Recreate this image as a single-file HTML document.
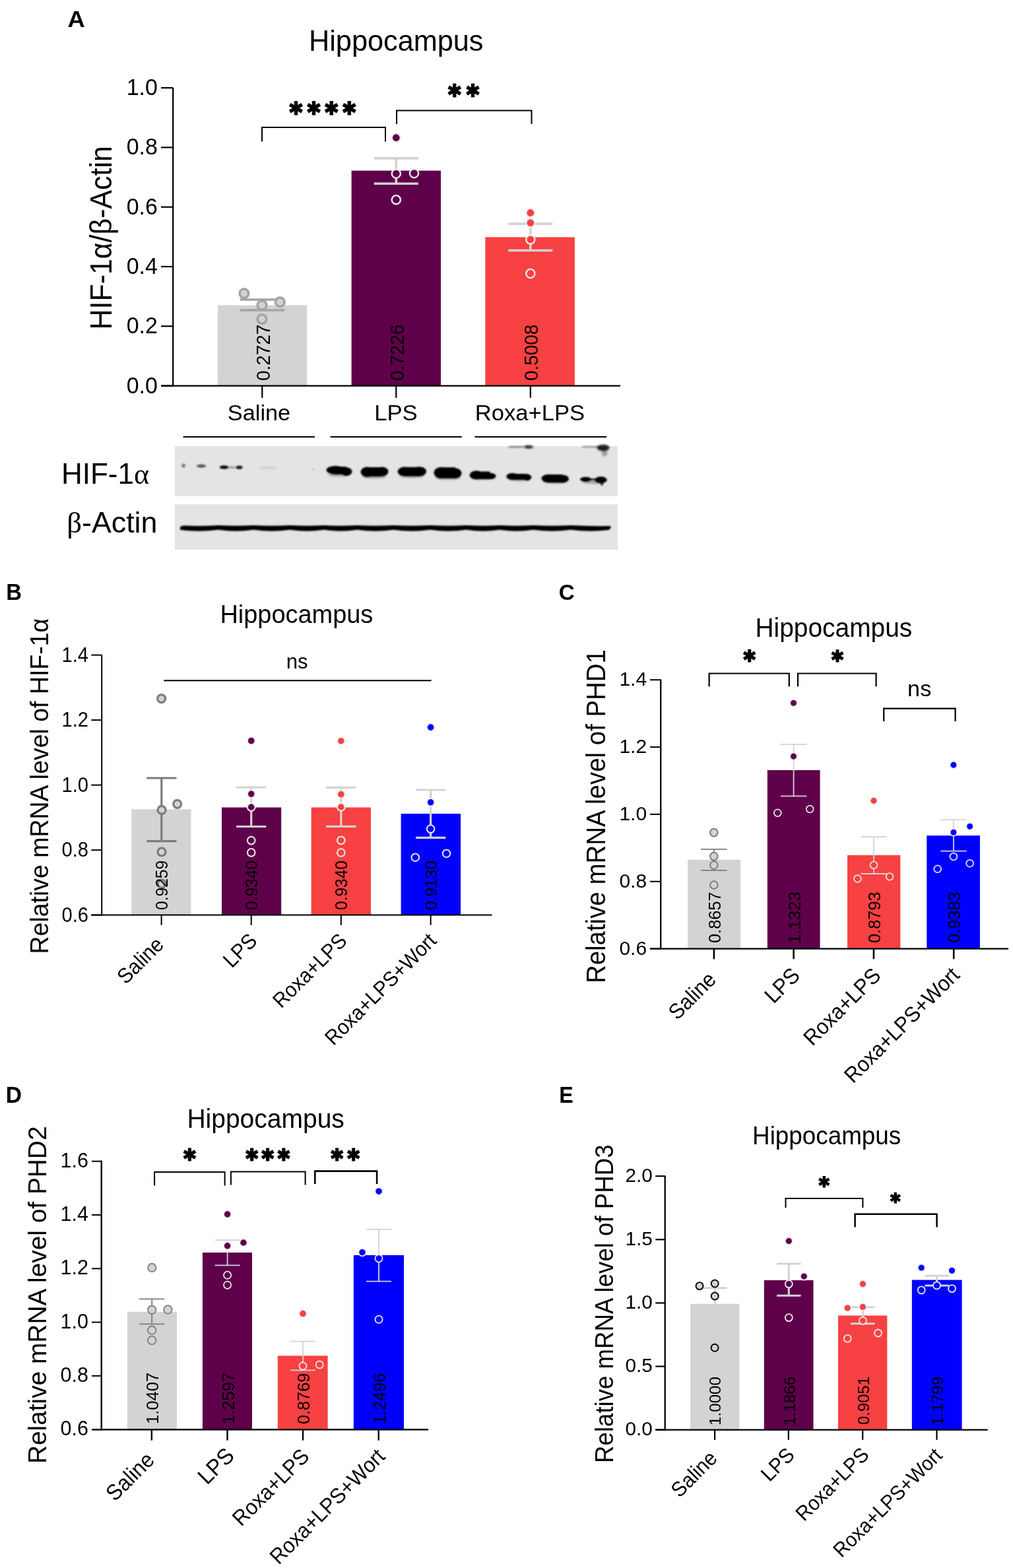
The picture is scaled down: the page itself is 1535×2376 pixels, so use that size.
<!DOCTYPE html>
<html><head><meta charset="utf-8"><title>Hippocampus HIF-1α and PHD expression</title>
<style>html,body{margin:0;padding:0;background:#fff;overflow:hidden;width:1535px;height:2376px;}svg{display:block;}</style></head>
<body><svg width="1535" height="2376" viewBox="0 0 1535 2376" font-family="'Liberation Sans', Arial, sans-serif" fill="#000">
<defs><filter id="blur1" x="-5%" y="-50%" width="110%" height="200%"><feGaussianBlur stdDeviation="1.0"/></filter><filter id="blur2" x="-20%" y="-100%" width="140%" height="300%"><feGaussianBlur stdDeviation="0.8"/></filter><filter id="blur3" x="-20%" y="-100%" width="140%" height="300%"><feGaussianBlur stdDeviation="1.6"/></filter></defs>
<rect width="1535" height="2376" fill="#fff"/>
<rect x="329.8" y="462.5" width="135.4" height="122.1" fill="#d3d3d3"/>
<rect x="532.6" y="258.6" width="135.4" height="326" fill="#5f004b"/>
<rect x="735.3" y="359.4" width="135.6" height="225.2" fill="#f74142"/>
<path d="M363.8,454 H430.8 M397.3,454 V470 M363.8,470 H430.8" fill="none" stroke="#a3a3a8" stroke-width="3.6"/>
<path d="M566.8,239.9 H633.8 M600.3,239.9 V278.3 M566.8,278.3 H633.8" fill="none" stroke="#d3d3d3" stroke-width="3.6"/>
<path d="M770.3,339.1 H837.3 M803.8,339.1 V379.5 M770.3,379.5 H837.3" fill="none" stroke="#d3d3d3" stroke-width="3.6"/>
<circle cx="369.9" cy="444.6" r="6.8" fill="#d3d3d3" stroke="#a3a3a8" stroke-width="3.6"/>
<circle cx="397" cy="462.4" r="6.8" fill="#d3d3d3" stroke="#a3a3a8" stroke-width="3.6"/>
<circle cx="424.3" cy="457.7" r="6.8" fill="#d3d3d3" stroke="#a3a3a8" stroke-width="3.6"/>
<circle cx="397" cy="483.5" r="6.8" fill="#d3d3d3" stroke="#a3a3a8" stroke-width="3.6"/>
<circle cx="600.3" cy="208.7" r="6.6" fill="#5f004b" stroke="#ececec" stroke-width="2.4"/>
<circle cx="600.3" cy="263.1" r="6.6" fill="#5f004b" stroke="#ececec" stroke-width="2.4"/>
<circle cx="627.5" cy="262.6" r="6.6" fill="#5f004b" stroke="#ececec" stroke-width="2.4"/>
<circle cx="600.3" cy="302.7" r="6.6" fill="#5f004b" stroke="#ececec" stroke-width="2.4"/>
<circle cx="803.8" cy="322.5" r="6.6" fill="#f74142" stroke="#ececec" stroke-width="2.4"/>
<circle cx="803.8" cy="337.7" r="6.6" fill="#f74142" stroke="#ececec" stroke-width="2.4"/>
<circle cx="803.8" cy="362.9" r="6.6" fill="#f74142" stroke="#ececec" stroke-width="2.4"/>
<circle cx="803.8" cy="414.5" r="6.6" fill="#f74142" stroke="#ececec" stroke-width="2.4"/>
<line x1="262.2" y1="132.9" x2="262.2" y2="585.75" stroke="#000" stroke-width="2.3"/>
<line x1="244" y1="584.6" x2="940" y2="584.6" stroke="#000" stroke-width="2.3"/>
<line x1="244" y1="584.6" x2="262.2" y2="584.6" stroke="#000" stroke-width="2.2"/>
<line x1="244" y1="494.3" x2="262.2" y2="494.3" stroke="#000" stroke-width="2.2"/>
<line x1="244" y1="404" x2="262.2" y2="404" stroke="#000" stroke-width="2.2"/>
<line x1="244" y1="313.7" x2="262.2" y2="313.7" stroke="#000" stroke-width="2.2"/>
<line x1="244" y1="223.4" x2="262.2" y2="223.4" stroke="#000" stroke-width="2.2"/>
<line x1="244" y1="133.1" x2="262.2" y2="133.1" stroke="#000" stroke-width="2.2"/>
<line x1="397.3" y1="584.6" x2="397.3" y2="602.8" stroke="#000" stroke-width="2.2"/>
<line x1="600.3" y1="584.6" x2="600.3" y2="602.8" stroke="#000" stroke-width="2.2"/>
<line x1="803.8" y1="584.6" x2="803.8" y2="602.8" stroke="#000" stroke-width="2.2"/>
<path d="M397,214.6 V193 H584 V214.6" fill="none" stroke="#000" stroke-width="2"/>
<path d="M601,188 V167.4 H805.5 V188" fill="none" stroke="#000" stroke-width="2"/>
<line x1="277.6" y1="662" x2="477.1" y2="662" stroke="#000" stroke-width="2"/>
<line x1="500.6" y1="662" x2="699.8" y2="662" stroke="#000" stroke-width="2"/>
<line x1="719.5" y1="662" x2="919.3" y2="662" stroke="#000" stroke-width="2"/>
<rect x="264.8" y="676.1" width="671.1" height="75.8" fill="#e4e4e4"/>
<rect x="264.8" y="764.2" width="671.1" height="68.8" fill="#e4e4e4"/>
<g filter="url(#blur1)" fill="#000">
<ellipse cx="508.5" cy="712.3" rx="14" ry="6.4"/>
<ellipse cx="525" cy="714.6" rx="8.5" ry="6.3"/>
<rect x="508" y="707.2" width="17" height="11.5"/>
<ellipse cx="556.5" cy="715.2" rx="10" ry="7.6"/>
<ellipse cx="578.5" cy="714.6" rx="10" ry="7.2"/>
<rect x="556" y="708" width="22" height="14"/>
<ellipse cx="613" cy="714.6" rx="10.5" ry="7"/>
<ellipse cx="635.5" cy="714.4" rx="10.5" ry="7.2"/>
<rect x="613" y="707.8" width="23" height="13.8"/>
<ellipse cx="668.5" cy="716.3" rx="11" ry="8.6"/>
<ellipse cx="690" cy="717.2" rx="9.5" ry="7.6"/>
<rect x="668" y="708.2" width="22" height="16.5"/>
<ellipse cx="722" cy="719.9" rx="10.5" ry="6.6"/>
<ellipse cx="742.5" cy="721.4" rx="9" ry="4.7"/>
<rect x="722" y="714.5" width="20.5" height="11.5"/>
<ellipse cx="776.5" cy="722" rx="9.3" ry="5"/>
<ellipse cx="799" cy="723.4" rx="6.2" ry="4.8"/>
<rect x="776.5" y="718" width="22.5" height="9"/>
<ellipse cx="831.5" cy="725" rx="11" ry="6.2"/>
<ellipse cx="852" cy="725.6" rx="10" ry="6"/>
<rect x="831.5" y="719" width="20.5" height="12.3"/>
<ellipse cx="887.5" cy="726.3" rx="8.5" ry="3.6"/>
<ellipse cx="910.5" cy="727.2" rx="9.2" ry="5"/>
<rect x="893" y="725" width="12" height="2.6" fill-opacity="0.8"/>
<ellipse cx="912" cy="732" rx="2.4" ry="4" fill-opacity="0.7"/>
</g>
<g filter="url(#blur3)" fill="#000">
<ellipse cx="513" cy="719" rx="16" ry="3.2" fill-opacity="0.28"/>
<ellipse cx="567" cy="722" rx="18" ry="3.2" fill-opacity="0.28"/>
<ellipse cx="624" cy="721" rx="19" ry="3.2" fill-opacity="0.28"/>
<ellipse cx="679" cy="724" rx="19" ry="3.2" fill-opacity="0.28"/>
<ellipse cx="732" cy="724" rx="17" ry="3.2" fill-opacity="0.28"/>
<ellipse cx="786" cy="726" rx="16" ry="3.2" fill-opacity="0.28"/>
<ellipse cx="841" cy="729.5" rx="18" ry="3.2" fill-opacity="0.28"/>
<ellipse cx="899" cy="730" rx="17" ry="3.2" fill-opacity="0.28"/>
<rect x="771" y="676" width="22" height="2.2" fill-opacity="0.55"/>
<ellipse cx="801" cy="677.2" rx="7" ry="2.6" fill-opacity="0.8"/>
<rect x="882" y="676" width="28" height="2" fill-opacity="0.45"/>
<ellipse cx="914" cy="678.5" rx="9.5" ry="4.8" fill-opacity="0.85"/>
<ellipse cx="916" cy="686" rx="4.5" ry="5.5" fill-opacity="0.3"/>
</g>
<g filter="url(#blur2)" fill="#000">
<ellipse cx="278" cy="705.5" rx="3" ry="3" fill-opacity="0.45"/>
<ellipse cx="305" cy="706.2" rx="7" ry="2.6" fill-opacity="0.6"/>
<ellipse cx="339.5" cy="708" rx="6.8" ry="2.8" fill-opacity="0.95"/>
<ellipse cx="351.5" cy="708.3" rx="5.5" ry="1.8" fill-opacity="0.3"/>
<ellipse cx="362.5" cy="708.3" rx="5" ry="2.7" fill-opacity="0.85"/>
<ellipse cx="406" cy="708.8" rx="13" ry="1.6" fill-opacity="0.12"/>
<ellipse cx="474" cy="711" rx="1.5" ry="1.5" fill-opacity="0.2"/>
</g>
<path filter="url(#blur1)" d="M273,799.5 Q273,796.2 281,796.6 Q301.9,797.6 330.9,796.0 Q357.4,797.6 384.0,796.0 Q411.7,797.6 439.4,796.0 Q464.9,797.6 490.4,796.0 Q515.8,797.6 541.3,796.0 Q568.6,797.6 596.0,796.0 Q624.0,797.6 652.0,796.0 Q679.1,797.6 706.3,796.0 Q731.8,797.6 757.3,796.0 Q782.8,797.6 808.2,796.0 Q836.5,797.6 864.7,796.0 Q894.6,797.6 924.5,797 Q927.5,799 922.5,803 Q894.6,806.6 864.7,802.8 Q836.5,806.6 808.2,802.8 Q782.8,806.6 757.3,802.8 Q731.8,806.6 706.3,802.8 Q679.1,806.6 652.0,802.8 Q624.0,806.6 596.0,802.8 Q568.6,806.6 541.3,802.8 Q515.8,806.6 490.4,802.8 Q464.9,806.6 439.4,802.8 Q411.7,806.6 384.0,802.8 Q357.4,806.6 330.9,802.8 Q301.9,806.6 273.0,803 Z" fill="#000"/>
<rect x="199.2" y="1226.3" width="90.3" height="160.3" fill="#d3d3d3"/>
<rect x="336" y="1223.5" width="90.2" height="163.1" fill="#5f004b"/>
<rect x="471.6" y="1223.5" width="90.4" height="163.1" fill="#f74142"/>
<rect x="607.6" y="1233" width="90.4" height="153.6" fill="#0000fe"/>
<path d="M222.2,1179 H267.4 M244.8,1179 V1274.7 M222.2,1274.7 H267.4" fill="none" stroke="#7c7c7c" stroke-width="3.2"/>
<path d="M358.1,1193 H403.3 M380.7,1193 V1252.5 M358.1,1252.5 H403.3" fill="none" stroke="#d3d3d3" stroke-width="3.2"/>
<path d="M494.2,1193.4 H539.4 M516.8,1193.4 V1252.3 M494.2,1252.3 H539.4" fill="none" stroke="#d3d3d3" stroke-width="3.2"/>
<path d="M630,1197 H675.2 M652.6,1197 V1269.4 M630,1269.4 H675.2" fill="none" stroke="#d3d3d3" stroke-width="3.2"/>
<circle cx="244.6" cy="1058.6" r="6" fill="#d3d3d3" stroke="#7c7c7c" stroke-width="3.2"/>
<circle cx="245" cy="1227.4" r="6" fill="#d3d3d3" stroke="#7c7c7c" stroke-width="3.2"/>
<circle cx="268.7" cy="1218.4" r="6" fill="#d3d3d3" stroke="#7c7c7c" stroke-width="3.2"/>
<circle cx="245" cy="1290.8" r="6" fill="#d3d3d3" stroke="#7c7c7c" stroke-width="3.2"/>
<circle cx="245" cy="1339.2" r="6" fill="#d3d3d3" stroke="#7c7c7c" stroke-width="3.2"/>
<circle cx="380.7" cy="1122.5" r="5.8" fill="#5f004b" stroke="#ececec" stroke-width="2"/>
<circle cx="380.7" cy="1203.1" r="5.8" fill="#5f004b" stroke="#ececec" stroke-width="2"/>
<circle cx="380.7" cy="1223.1" r="5.8" fill="#5f004b" stroke="#ececec" stroke-width="2"/>
<circle cx="380.7" cy="1273.6" r="5.8" fill="#5f004b" stroke="#ececec" stroke-width="2"/>
<circle cx="380.7" cy="1291.9" r="5.8" fill="#5f004b" stroke="#ececec" stroke-width="2"/>
<circle cx="516.8" cy="1122.7" r="5.8" fill="#f74142" stroke="#ececec" stroke-width="2"/>
<circle cx="516.8" cy="1203.6" r="5.8" fill="#f74142" stroke="#ececec" stroke-width="2"/>
<circle cx="516.8" cy="1222.9" r="5.8" fill="#f74142" stroke="#ececec" stroke-width="2"/>
<circle cx="516.8" cy="1273.4" r="5.8" fill="#f74142" stroke="#ececec" stroke-width="2"/>
<circle cx="516.8" cy="1292" r="5.8" fill="#f74142" stroke="#ececec" stroke-width="2"/>
<circle cx="652.6" cy="1102.1" r="5.8" fill="#0000fe" stroke="#ececec" stroke-width="2"/>
<circle cx="652.6" cy="1215.8" r="5.8" fill="#0000fe" stroke="#ececec" stroke-width="2"/>
<circle cx="652.6" cy="1256.1" r="5.8" fill="#0000fe" stroke="#ececec" stroke-width="2"/>
<circle cx="629.3" cy="1299.3" r="5.8" fill="#0000fe" stroke="#ececec" stroke-width="2"/>
<circle cx="676.5" cy="1293.3" r="5.8" fill="#0000fe" stroke="#ececec" stroke-width="2"/>
<line x1="154.2" y1="992.5" x2="154.2" y2="1387.6" stroke="#000" stroke-width="2"/>
<line x1="138.3" y1="1386.6" x2="745.6" y2="1386.6" stroke="#000" stroke-width="2"/>
<line x1="138.3" y1="1386.6" x2="154.2" y2="1386.6" stroke="#000" stroke-width="2"/>
<line x1="138.3" y1="1288.1" x2="154.2" y2="1288.1" stroke="#000" stroke-width="2"/>
<line x1="138.3" y1="1189.6" x2="154.2" y2="1189.6" stroke="#000" stroke-width="2"/>
<line x1="138.3" y1="1091.1" x2="154.2" y2="1091.1" stroke="#000" stroke-width="2"/>
<line x1="138.3" y1="992.6" x2="154.2" y2="992.6" stroke="#000" stroke-width="2"/>
<line x1="244.6" y1="1386.6" x2="244.6" y2="1401.8" stroke="#000" stroke-width="2"/>
<line x1="380.7" y1="1386.6" x2="380.7" y2="1401.8" stroke="#000" stroke-width="2"/>
<line x1="516.8" y1="1386.6" x2="516.8" y2="1401.8" stroke="#000" stroke-width="2"/>
<line x1="652.6" y1="1386.6" x2="652.6" y2="1401.8" stroke="#000" stroke-width="2"/>
<line x1="248.3" y1="1031.2" x2="653.6" y2="1031.2" stroke="#000" stroke-width="2"/>
<rect x="1042" y="1302.7" width="80" height="134.9" fill="#d3d3d3"/>
<rect x="1162.8" y="1167" width="79.8" height="270.6" fill="#5f004b"/>
<rect x="1284" y="1295.8" width="80.3" height="141.8" fill="#f74142"/>
<rect x="1404.3" y="1266.1" width="80.6" height="171.5" fill="#0000fe"/>
<path d="M1062.1,1286.8 H1101.5 M1081.8,1286.8 V1318.8 M1062.1,1318.8 H1101.5" fill="none" stroke="#7c7c7c" stroke-width="1.8"/>
<path d="M1182.9,1127.8 H1222.3 M1202.6,1127.8 V1206.3 M1182.9,1206.3 H1222.3" fill="none" stroke="#d3d3d3" stroke-width="1.8"/>
<path d="M1304.3,1268.1 H1343.7 M1324,1268.1 V1324 M1304.3,1324 H1343.7" fill="none" stroke="#d3d3d3" stroke-width="1.8"/>
<path d="M1425.2,1242.1 H1464.6 M1444.9,1242.1 V1289.6 M1425.2,1289.6 H1464.6" fill="none" stroke="#d3d3d3" stroke-width="1.8"/>
<circle cx="1081.8" cy="1261.6" r="5.8" fill="#d3d3d3" stroke="#7c7c7c" stroke-width="2"/>
<circle cx="1081.8" cy="1297.6" r="5.8" fill="#d3d3d3" stroke="#7c7c7c" stroke-width="2"/>
<circle cx="1081.8" cy="1311" r="5.8" fill="#d3d3d3" stroke="#7c7c7c" stroke-width="2"/>
<circle cx="1081.8" cy="1341" r="5.8" fill="#d3d3d3" stroke="#7c7c7c" stroke-width="2"/>
<circle cx="1202.5" cy="1065.3" r="5.4" fill="#5f004b" stroke="#ececec" stroke-width="1.7"/>
<circle cx="1202.5" cy="1146.1" r="5.4" fill="#5f004b" stroke="#ececec" stroke-width="1.7"/>
<circle cx="1178.3" cy="1231.8" r="5.4" fill="#5f004b" stroke="#ececec" stroke-width="1.7"/>
<circle cx="1227.2" cy="1226" r="5.4" fill="#5f004b" stroke="#ececec" stroke-width="1.7"/>
<circle cx="1324" cy="1213.4" r="5.4" fill="#f74142" stroke="#ececec" stroke-width="1.7"/>
<circle cx="1324" cy="1310.9" r="5.4" fill="#f74142" stroke="#ececec" stroke-width="1.7"/>
<circle cx="1299.4" cy="1331.5" r="5.4" fill="#f74142" stroke="#ececec" stroke-width="1.7"/>
<circle cx="1348.1" cy="1328.4" r="5.4" fill="#f74142" stroke="#ececec" stroke-width="1.7"/>
<circle cx="1444.9" cy="1159.1" r="5.4" fill="#0000fe" stroke="#ececec" stroke-width="1.7"/>
<circle cx="1469.6" cy="1252.3" r="5.4" fill="#0000fe" stroke="#ececec" stroke-width="1.7"/>
<circle cx="1444.9" cy="1261.3" r="5.4" fill="#0000fe" stroke="#ececec" stroke-width="1.7"/>
<circle cx="1444.9" cy="1298" r="5.4" fill="#0000fe" stroke="#ececec" stroke-width="1.7"/>
<circle cx="1469.6" cy="1308.2" r="5.4" fill="#0000fe" stroke="#ececec" stroke-width="1.7"/>
<circle cx="1420.7" cy="1316.8" r="5.4" fill="#0000fe" stroke="#ececec" stroke-width="1.7"/>
<line x1="1001.2" y1="1029.5" x2="1001.2" y2="1438.8" stroke="#000" stroke-width="2.4"/>
<line x1="985" y1="1437.6" x2="1528" y2="1437.6" stroke="#000" stroke-width="2.4"/>
<line x1="985" y1="1437.6" x2="1001.2" y2="1437.6" stroke="#000" stroke-width="2"/>
<line x1="985" y1="1335.75" x2="1001.2" y2="1335.75" stroke="#000" stroke-width="2"/>
<line x1="985" y1="1233.9" x2="1001.2" y2="1233.9" stroke="#000" stroke-width="2"/>
<line x1="985" y1="1132.05" x2="1001.2" y2="1132.05" stroke="#000" stroke-width="2"/>
<line x1="985" y1="1030.2" x2="1001.2" y2="1030.2" stroke="#000" stroke-width="2"/>
<line x1="1081.9" y1="1437.6" x2="1081.9" y2="1453.3" stroke="#000" stroke-width="2.6"/>
<line x1="1202.6" y1="1437.6" x2="1202.6" y2="1453.3" stroke="#000" stroke-width="2.6"/>
<line x1="1323.9" y1="1437.6" x2="1323.9" y2="1453.3" stroke="#000" stroke-width="2.6"/>
<line x1="1445.2" y1="1437.6" x2="1445.2" y2="1453.3" stroke="#000" stroke-width="2.6"/>
<path d="M1074.6,1040.2 V1020.5 H1195.8 V1040.2" fill="none" stroke="#000" stroke-width="2.2"/>
<path d="M1209,1040.2 V1020.5 H1327.6 V1040.2" fill="none" stroke="#000" stroke-width="2.2"/>
<path d="M1339.2,1093 V1073.6 H1447.6 V1093" fill="none" stroke="#000" stroke-width="2.2"/>
<rect x="192.8" y="1987.8" width="75.2" height="178.4" fill="#d3d3d3"/>
<rect x="306.9" y="1898" width="75.1" height="268.2" fill="#5f004b"/>
<rect x="420.8" y="2054.4" width="75.8" height="111.8" fill="#f74142"/>
<rect x="535.8" y="1902" width="76.2" height="264.2" fill="#0000fe"/>
<path d="M211.2,1968.4 H249.2 M230.2,1968.4 V2006.3 M211.2,2006.3 H249.2" fill="none" stroke="#7c7c7c" stroke-width="1.8"/>
<path d="M325.6,1879.2 H363.6 M344.6,1879.2 V1917.3 M325.6,1917.3 H363.6" fill="none" stroke="#d3d3d3" stroke-width="1.8"/>
<path d="M440,2032.7 H478 M459,2032.7 V2076.3 M440,2076.3 H478" fill="none" stroke="#d3d3d3" stroke-width="1.8"/>
<path d="M555,1862.9 H593 M574,1862.9 V1941.7 M555,1941.7 H593" fill="none" stroke="#d3d3d3" stroke-width="1.8"/>
<circle cx="230.3" cy="1920.9" r="6.2" fill="#d3d3d3" stroke="#7c7c7c" stroke-width="1.8"/>
<circle cx="230.2" cy="1984.8" r="6.2" fill="#d3d3d3" stroke="#7c7c7c" stroke-width="1.8"/>
<circle cx="254.4" cy="1984.4" r="6.2" fill="#d3d3d3" stroke="#7c7c7c" stroke-width="1.8"/>
<circle cx="230.2" cy="2015.7" r="6.2" fill="#d3d3d3" stroke="#7c7c7c" stroke-width="1.8"/>
<circle cx="230.2" cy="2030.9" r="6.2" fill="#d3d3d3" stroke="#7c7c7c" stroke-width="1.8"/>
<circle cx="344.6" cy="1839.9" r="5.6" fill="#5f004b" stroke="#ececec" stroke-width="1.7"/>
<circle cx="344.6" cy="1887.8" r="5.6" fill="#5f004b" stroke="#ececec" stroke-width="1.7"/>
<circle cx="368.9" cy="1883" r="5.6" fill="#5f004b" stroke="#ececec" stroke-width="1.7"/>
<circle cx="344.6" cy="1932.3" r="5.6" fill="#5f004b" stroke="#ececec" stroke-width="1.7"/>
<circle cx="344.6" cy="1947.2" r="5.6" fill="#5f004b" stroke="#ececec" stroke-width="1.7"/>
<circle cx="459" cy="1990.6" r="5.6" fill="#f74142" stroke="#ececec" stroke-width="1.7"/>
<circle cx="459" cy="2070" r="5.6" fill="#f74142" stroke="#ececec" stroke-width="1.7"/>
<circle cx="484.2" cy="2067.9" r="5.6" fill="#f74142" stroke="#ececec" stroke-width="1.7"/>
<circle cx="574" cy="1805.2" r="5.6" fill="#0000fe" stroke="#ececec" stroke-width="1.7"/>
<circle cx="549" cy="1897.7" r="5.6" fill="#0000fe" stroke="#ececec" stroke-width="1.7"/>
<circle cx="574" cy="1906.9" r="5.6" fill="#0000fe" stroke="#ececec" stroke-width="1.7"/>
<circle cx="574" cy="1999.3" r="5.6" fill="#0000fe" stroke="#ececec" stroke-width="1.7"/>
<line x1="153.7" y1="1758.5" x2="153.7" y2="2167.4" stroke="#000" stroke-width="2.4"/>
<line x1="139" y1="2166.2" x2="649" y2="2166.2" stroke="#000" stroke-width="2.4"/>
<line x1="139" y1="2166.2" x2="153.7" y2="2166.2" stroke="#000" stroke-width="2"/>
<line x1="139" y1="2084.9" x2="153.7" y2="2084.9" stroke="#000" stroke-width="2"/>
<line x1="139" y1="2003.6" x2="153.7" y2="2003.6" stroke="#000" stroke-width="2"/>
<line x1="139" y1="1922.3" x2="153.7" y2="1922.3" stroke="#000" stroke-width="2"/>
<line x1="139" y1="1841" x2="153.7" y2="1841" stroke="#000" stroke-width="2"/>
<line x1="139" y1="1759.7" x2="153.7" y2="1759.7" stroke="#000" stroke-width="2"/>
<line x1="229.8" y1="2166.2" x2="229.8" y2="2182.6" stroke="#000" stroke-width="2.4"/>
<line x1="344.5" y1="2166.2" x2="344.5" y2="2182.6" stroke="#000" stroke-width="2.4"/>
<line x1="459" y1="2166.2" x2="459" y2="2182.6" stroke="#000" stroke-width="2.4"/>
<line x1="573.7" y1="2166.2" x2="573.7" y2="2182.6" stroke="#000" stroke-width="2.4"/>
<path d="M234.1,1796.5 V1776 H340.6 V1796.5" fill="none" stroke="#000" stroke-width="2"/>
<path d="M349.9,1795.5 V1775.5 H462.6 V1795.5" fill="none" stroke="#000" stroke-width="2"/>
<path d="M477.3,1794.1 V1774.6 H571.1 V1794.1" fill="none" stroke="#000" stroke-width="2.6"/>
<rect x="1046.1" y="1975.8" width="74.3" height="190.8" fill="#d3d3d3"/>
<rect x="1157.8" y="1939.9" width="74.7" height="226.7" fill="#5f004b"/>
<rect x="1270" y="1993.5" width="74.3" height="173.1" fill="#f74142"/>
<rect x="1381.8" y="1939.5" width="75.8" height="227.1" fill="#0000fe"/>
<path d="M1065,1951.7 H1101.4 M1083.2,1951.7 V1995 M1065,1995 H1101.4" fill="none" stroke="#d3d3d3" stroke-width="3"/>
<path d="M1177.1,1915.1 H1213.5 M1195.3,1915.1 V1963.2 M1177.1,1963.2 H1213.5" fill="none" stroke="#d3d3d3" stroke-width="3"/>
<path d="M1289.2,1980.8 H1325.6 M1307.4,1980.8 V2005.7 M1289.2,2005.7 H1325.6" fill="none" stroke="#d3d3d3" stroke-width="3"/>
<path d="M1401.4,1933.3 H1437.8 M1419.6,1933.3 V1947.9 M1401.4,1947.9 H1437.8" fill="none" stroke="#d3d3d3" stroke-width="3"/>
<circle cx="1060" cy="1948.6" r="5.5" fill="#d3d3d3" stroke="#000" stroke-width="1.9"/>
<circle cx="1083.2" cy="1945" r="5.5" fill="#d3d3d3" stroke="#000" stroke-width="1.9"/>
<circle cx="1083.2" cy="1964" r="5.5" fill="#d3d3d3" stroke="#000" stroke-width="1.9"/>
<circle cx="1083.1" cy="2042.3" r="5.5" fill="#d3d3d3" stroke="#000" stroke-width="1.9"/>
<circle cx="1195.3" cy="1880.5" r="5.5" fill="#5f004b" stroke="#ececec" stroke-width="1.8"/>
<circle cx="1218.3" cy="1934.1" r="5.5" fill="#5f004b" stroke="#ececec" stroke-width="1.8"/>
<circle cx="1195.3" cy="1945.6" r="5.5" fill="#5f004b" stroke="#ececec" stroke-width="1.8"/>
<circle cx="1195.3" cy="1996.6" r="5.5" fill="#5f004b" stroke="#ececec" stroke-width="1.8"/>
<circle cx="1307.4" cy="1945.6" r="5.5" fill="#f74142" stroke="#ececec" stroke-width="1.8"/>
<circle cx="1284.2" cy="1982" r="5.5" fill="#f74142" stroke="#ececec" stroke-width="1.8"/>
<circle cx="1307.4" cy="1980.4" r="5.5" fill="#f74142" stroke="#ececec" stroke-width="1.8"/>
<circle cx="1307.4" cy="2001.3" r="5.5" fill="#f74142" stroke="#ececec" stroke-width="1.8"/>
<circle cx="1330.6" cy="2020" r="5.5" fill="#f74142" stroke="#ececec" stroke-width="1.8"/>
<circle cx="1284.2" cy="2028.3" r="5.5" fill="#f74142" stroke="#ececec" stroke-width="1.8"/>
<circle cx="1396.2" cy="1921" r="5.5" fill="#0000fe" stroke="#ececec" stroke-width="1.8"/>
<circle cx="1442.5" cy="1925.3" r="5.5" fill="#0000fe" stroke="#ececec" stroke-width="1.8"/>
<circle cx="1419.6" cy="1947.9" r="5.5" fill="#0000fe" stroke="#ececec" stroke-width="1.8"/>
<circle cx="1396.2" cy="1954.9" r="5.5" fill="#0000fe" stroke="#ececec" stroke-width="1.8"/>
<circle cx="1442.5" cy="1952.6" r="5.5" fill="#0000fe" stroke="#ececec" stroke-width="1.8"/>
<line x1="1007.7" y1="1781.5" x2="1007.7" y2="2167.75" stroke="#000" stroke-width="2.3"/>
<line x1="993.2" y1="2166.6" x2="1496.7" y2="2166.6" stroke="#000" stroke-width="2.3"/>
<line x1="993.2" y1="2166.6" x2="1007.7" y2="2166.6" stroke="#000" stroke-width="2.2"/>
<line x1="993.2" y1="2070.5" x2="1007.7" y2="2070.5" stroke="#000" stroke-width="2.2"/>
<line x1="993.2" y1="1974.4" x2="1007.7" y2="1974.4" stroke="#000" stroke-width="2.2"/>
<line x1="993.2" y1="1878.3" x2="1007.7" y2="1878.3" stroke="#000" stroke-width="2.2"/>
<line x1="993.2" y1="1782.2" x2="1007.7" y2="1782.2" stroke="#000" stroke-width="2.2"/>
<line x1="1083.1" y1="2166.6" x2="1083.1" y2="2181.8" stroke="#000" stroke-width="2.2"/>
<line x1="1194.8" y1="2166.6" x2="1194.8" y2="2181.8" stroke="#000" stroke-width="2.2"/>
<line x1="1307.2" y1="2166.6" x2="1307.2" y2="2181.8" stroke="#000" stroke-width="2.2"/>
<line x1="1419.5" y1="2166.6" x2="1419.5" y2="2181.8" stroke="#000" stroke-width="2.2"/>
<path d="M1190.5,1830 V1816 H1307.4 V1830" fill="none" stroke="#000" stroke-width="2"/>
<path d="M1295.6,1859.4 V1839.7 H1419.6 V1859.4" fill="none" stroke="#000" stroke-width="2.5"/>
<text x="238.82" y="595.6" font-size="35.3" text-anchor="end" textLength="47.11" lengthAdjust="spacingAndGlyphs">0.0</text>
<text x="238.82" y="505.3" font-size="35.3" text-anchor="end" textLength="47.11" lengthAdjust="spacingAndGlyphs">0.2</text>
<text x="238.82" y="415" font-size="35.3" text-anchor="end" textLength="47.11" lengthAdjust="spacingAndGlyphs">0.4</text>
<text x="238.82" y="324.7" font-size="35.3" text-anchor="end" textLength="47.11" lengthAdjust="spacingAndGlyphs">0.6</text>
<text x="238.82" y="234.4" font-size="35.3" text-anchor="end" textLength="47.11" lengthAdjust="spacingAndGlyphs">0.8</text>
<text x="238.82" y="144.1" font-size="35.3" text-anchor="end" textLength="47.11" lengthAdjust="spacingAndGlyphs">1.0</text>
<text x="436.79" y="174.15" font-size="27.95" font-family="DejaVu Sans, sans-serif" stroke="#000" stroke-width="1.1" stroke-linejoin="round">✱</text>
<text x="463.67" y="174.15" font-size="27.95" font-family="DejaVu Sans, sans-serif" stroke="#000" stroke-width="1.1" stroke-linejoin="round">✱</text>
<text x="490.55" y="174.15" font-size="27.95" font-family="DejaVu Sans, sans-serif" stroke="#000" stroke-width="1.1" stroke-linejoin="round">✱</text>
<text x="517.43" y="174.15" font-size="27.95" font-family="DejaVu Sans, sans-serif" stroke="#000" stroke-width="1.1" stroke-linejoin="round">✱</text>
<text x="677.54" y="147.45" font-size="27.26" font-family="DejaVu Sans, sans-serif" stroke="#000" stroke-width="1.1" stroke-linejoin="round">✱</text>
<text x="705.26" y="147.45" font-size="27.26" font-family="DejaVu Sans, sans-serif" stroke="#000" stroke-width="1.1" stroke-linejoin="round">✱</text>
<text x="133.95" y="1396.6" font-size="31" text-anchor="end" textLength="40.51" lengthAdjust="spacingAndGlyphs">0.6</text>
<text x="133.95" y="1298.1" font-size="31" text-anchor="end" textLength="40.51" lengthAdjust="spacingAndGlyphs">0.8</text>
<text x="133.95" y="1199.6" font-size="31" text-anchor="end" textLength="40.51" lengthAdjust="spacingAndGlyphs">1.0</text>
<text x="133.95" y="1101.1" font-size="31" text-anchor="end" textLength="40.51" lengthAdjust="spacingAndGlyphs">1.2</text>
<text x="133.95" y="1002.6" font-size="31" text-anchor="end" textLength="40.51" lengthAdjust="spacingAndGlyphs">1.4</text>
<text x="980.08" y="1446.8" font-size="30.4" text-anchor="end" textLength="41.63" lengthAdjust="spacingAndGlyphs">0.6</text>
<text x="980.08" y="1344.95" font-size="30.4" text-anchor="end" textLength="41.63" lengthAdjust="spacingAndGlyphs">0.8</text>
<text x="980.08" y="1243.1" font-size="30.4" text-anchor="end" textLength="41.63" lengthAdjust="spacingAndGlyphs">1.0</text>
<text x="980.08" y="1141.25" font-size="30.4" text-anchor="end" textLength="41.63" lengthAdjust="spacingAndGlyphs">1.2</text>
<text x="980.08" y="1039.4" font-size="30.4" text-anchor="end" textLength="41.63" lengthAdjust="spacingAndGlyphs">1.4</text>
<text x="1124.64" y="1003.05" font-size="25.62" font-family="DejaVu Sans, sans-serif" stroke="#000" stroke-width="1.1" stroke-linejoin="round">✱</text>
<text x="1258.27" y="1002.75" font-size="25.07" font-family="DejaVu Sans, sans-serif" stroke="#000" stroke-width="1.1" stroke-linejoin="round">✱</text>
<text x="133.9" y="2175.3" font-size="31.1" text-anchor="end" textLength="42.37" lengthAdjust="spacingAndGlyphs">0.6</text>
<text x="133.9" y="2094" font-size="31.1" text-anchor="end" textLength="42.37" lengthAdjust="spacingAndGlyphs">0.8</text>
<text x="133.9" y="2012.7" font-size="31.1" text-anchor="end" textLength="42.37" lengthAdjust="spacingAndGlyphs">1.0</text>
<text x="133.9" y="1931.4" font-size="31.1" text-anchor="end" textLength="42.37" lengthAdjust="spacingAndGlyphs">1.2</text>
<text x="133.9" y="1850.1" font-size="31.1" text-anchor="end" textLength="42.37" lengthAdjust="spacingAndGlyphs">1.4</text>
<text x="133.9" y="1768.8" font-size="31.1" text-anchor="end" textLength="42.37" lengthAdjust="spacingAndGlyphs">1.6</text>
<text x="276.57" y="1759.35" font-size="26.03" font-family="DejaVu Sans, sans-serif" stroke="#000" stroke-width="1.1" stroke-linejoin="round">✱</text>
<text x="370.73" y="1759.35" font-size="26.03" font-family="DejaVu Sans, sans-serif" stroke="#000" stroke-width="1.1" stroke-linejoin="round">✱</text>
<text x="394.82" y="1759.35" font-size="26.03" font-family="DejaVu Sans, sans-serif" stroke="#000" stroke-width="1.1" stroke-linejoin="round">✱</text>
<text x="418.91" y="1759.35" font-size="26.03" font-family="DejaVu Sans, sans-serif" stroke="#000" stroke-width="1.1" stroke-linejoin="round">✱</text>
<text x="499.63" y="1759.35" font-size="26.03" font-family="DejaVu Sans, sans-serif" stroke="#000" stroke-width="1.1" stroke-linejoin="round">✱</text>
<text x="524.71" y="1759.35" font-size="26.03" font-family="DejaVu Sans, sans-serif" stroke="#000" stroke-width="1.1" stroke-linejoin="round">✱</text>
<text x="988.77" y="2174.9" font-size="29.7" text-anchor="end">0.0</text>
<text x="988.77" y="2078.8" font-size="29.7" text-anchor="end">0.5</text>
<text x="988.77" y="1982.7" font-size="29.7" text-anchor="end">1.0</text>
<text x="988.77" y="1886.6" font-size="29.7" text-anchor="end">1.5</text>
<text x="988.77" y="1790.5" font-size="29.7" text-anchor="end">2.0</text>
<text x="1239.51" y="1799.05" font-size="22.6" font-family="DejaVu Sans, sans-serif" stroke="#000" stroke-width="1.1" stroke-linejoin="round">✱</text>
<text x="1348.02" y="1822.75" font-size="21.37" font-family="DejaVu Sans, sans-serif" stroke="#000" stroke-width="1.1" stroke-linejoin="round">✱</text>
<text transform="translate(408.60,577.12) rotate(-90)" font-size="29.00" textLength="85.48" lengthAdjust="spacingAndGlyphs">0.2727</text>
<text transform="translate(611.60,577.12) rotate(-90)" font-size="29.00" textLength="85.48" lengthAdjust="spacingAndGlyphs">0.7226</text>
<text transform="translate(815.10,577.12) rotate(-90)" font-size="29.00" textLength="85.48" lengthAdjust="spacingAndGlyphs">0.5008</text>
<text x="102.41" y="41.35" font-size="34.80" font-weight="bold" textLength="26.28" lengthAdjust="spacingAndGlyphs">A</text>
<text x="468.04" y="76.50" font-size="43.60" textLength="264.45" lengthAdjust="spacingAndGlyphs">Hippocampus</text>
<text transform="translate(168.80,499.43) rotate(-90)" font-size="45.80" textLength="278.32" lengthAdjust="spacingAndGlyphs">HIF-1α/β-Actin</text>
<text x="344.77" y="636.90" font-size="33.00" textLength="95.45" lengthAdjust="spacingAndGlyphs">Saline</text>
<text x="567.22" y="636.90" font-size="33.00" textLength="65.52" lengthAdjust="spacingAndGlyphs">LPS</text>
<text x="719.73" y="636.90" font-size="33.00" textLength="166.45" lengthAdjust="spacingAndGlyphs">Roxa+LPS</text>
<text x="92.97" y="732.90" font-size="44.00">HIF-1<tspan font-family="Liberation Serif, serif">α</tspan></text>
<text x="101.31" y="806.50" font-size="43.80" textLength="137.11" lengthAdjust="spacingAndGlyphs"><tspan font-family="Liberation Serif, serif">β</tspan>-Actin</text>
<text transform="translate(254.20,1378.99) rotate(-90)" font-size="25.00" textLength="75.20" lengthAdjust="spacingAndGlyphs">0.9259</text>
<text transform="translate(390.10,1378.98) rotate(-90)" font-size="25.00" textLength="74.93" lengthAdjust="spacingAndGlyphs">0.9340</text>
<text transform="translate(526.20,1378.98) rotate(-90)" font-size="25.00" textLength="74.93" lengthAdjust="spacingAndGlyphs">0.9340</text>
<text transform="translate(662.00,1378.98) rotate(-90)" font-size="25.00" textLength="74.93" lengthAdjust="spacingAndGlyphs">0.9130</text>
<text x="433.79" y="1012.50" font-size="31.30" textLength="32.87" lengthAdjust="spacingAndGlyphs">ns</text>
<text x="333.46" y="944.10" font-size="39.00" textLength="231.84" lengthAdjust="spacingAndGlyphs">Hippocampus</text>
<text x="9.20" y="908.80" font-size="34.50" font-weight="bold" textLength="23.68" lengthAdjust="spacingAndGlyphs">B</text>
<text transform="translate(72.80,1445.50) rotate(-90)" font-size="38.80" textLength="508.70" lengthAdjust="spacingAndGlyphs">Relative mRNA level of HIF-1α</text>
<text transform="translate(249.89,1433.27) rotate(-45)" text-anchor="end" font-size="32.13" textLength="83.96" lengthAdjust="spacingAndGlyphs">Saline</text>
<text transform="translate(391.52,1427.62) rotate(-45)" text-anchor="end" font-size="32.14" textLength="57.11" lengthAdjust="spacingAndGlyphs">LPS</text>
<text transform="translate(527.53,1427.60) rotate(-45)" text-anchor="end" font-size="31.72" textLength="143.38" lengthAdjust="spacingAndGlyphs">Roxa+LPS</text>
<text transform="translate(663.09,1427.47) rotate(-45)" text-anchor="end" font-size="31.75" textLength="223.38" lengthAdjust="spacingAndGlyphs">Roxa+LPS+Wort</text>
<text transform="translate(1092.10,1429.02) rotate(-90)" font-size="26.50" textLength="77.76" lengthAdjust="spacingAndGlyphs">0.8657</text>
<text transform="translate(1212.90,1430.06) rotate(-90)" font-size="26.50" textLength="78.82" lengthAdjust="spacingAndGlyphs">1.1323</text>
<text transform="translate(1334.30,1429.02) rotate(-90)" font-size="26.50" textLength="77.77" lengthAdjust="spacingAndGlyphs">0.8793</text>
<text transform="translate(1455.20,1429.02) rotate(-90)" font-size="26.50" textLength="77.77" lengthAdjust="spacingAndGlyphs">0.9383</text>
<text x="1375.10" y="1054.60" font-size="32.90" textLength="36.17" lengthAdjust="spacingAndGlyphs">ns</text>
<text x="1144.38" y="964.80" font-size="40.00" textLength="237.96" lengthAdjust="spacingAndGlyphs">Hippocampus</text>
<text x="846.64" y="908.60" font-size="33.70" font-weight="bold" textLength="23.94" lengthAdjust="spacingAndGlyphs">C</text>
<text transform="translate(917.10,1490.07) rotate(-90)" font-size="40.60" textLength="506.05" lengthAdjust="spacingAndGlyphs">Relative mRNA level of PHD1</text>
<text transform="translate(1086.87,1486.32) rotate(-45)" text-anchor="end" font-size="32.78" textLength="85.65" lengthAdjust="spacingAndGlyphs">Saline</text>
<text transform="translate(1214.14,1480.09) rotate(-45)" text-anchor="end" font-size="33.44" textLength="59.42" lengthAdjust="spacingAndGlyphs">LPS</text>
<text transform="translate(1336.58,1480.39) rotate(-45)" text-anchor="end" font-size="33.06" textLength="149.43" lengthAdjust="spacingAndGlyphs">Roxa+LPS</text>
<text transform="translate(1455.92,1479.41) rotate(-45)" text-anchor="end" font-size="32.81" textLength="230.89" lengthAdjust="spacingAndGlyphs">Roxa+LPS+Wort</text>
<text transform="translate(240.30,2158.06) rotate(-90)" font-size="26.20" textLength="78.31" lengthAdjust="spacingAndGlyphs">1.0407</text>
<text transform="translate(354.70,2158.06) rotate(-90)" font-size="26.20" textLength="78.31" lengthAdjust="spacingAndGlyphs">1.2597</text>
<text transform="translate(469.10,2158.02) rotate(-90)" font-size="26.20" textLength="77.26" lengthAdjust="spacingAndGlyphs">0.8769</text>
<text transform="translate(584.10,2158.04) rotate(-90)" font-size="26.20" textLength="77.28" lengthAdjust="spacingAndGlyphs">1.2496</text>
<text x="283.38" y="1708.50" font-size="40.00" textLength="238.46" lengthAdjust="spacingAndGlyphs">Hippocampus</text>
<text x="8.63" y="1670.90" font-size="34.60" font-weight="bold" textLength="24.31" lengthAdjust="spacingAndGlyphs">D</text>
<text transform="translate(70.00,2218.11) rotate(-90)" font-size="39.10" textLength="511.61" lengthAdjust="spacingAndGlyphs">Relative mRNA level of PHD2</text>
<text transform="translate(235.95,2214.43) rotate(-45)" text-anchor="end" font-size="33.48" textLength="87.48" lengthAdjust="spacingAndGlyphs">Saline</text>
<text transform="translate(356.93,2207.95) rotate(-45)" text-anchor="end" font-size="34.34" textLength="61.01" lengthAdjust="spacingAndGlyphs">LPS</text>
<text transform="translate(470.70,2208.95) rotate(-45)" text-anchor="end" font-size="32.89" textLength="148.65" lengthAdjust="spacingAndGlyphs">Roxa+LPS</text>
<text transform="translate(585.39,2208.83) rotate(-45)" text-anchor="end" font-size="32.81" textLength="230.85" lengthAdjust="spacingAndGlyphs">Roxa+LPS+Wort</text>
<text transform="translate(1092.40,2159.94) rotate(-90)" font-size="24.00" textLength="73.87" lengthAdjust="spacingAndGlyphs">1.0000</text>
<text transform="translate(1204.50,2159.94) rotate(-90)" font-size="24.00" textLength="74.12" lengthAdjust="spacingAndGlyphs">1.1866</text>
<text transform="translate(1316.60,2158.96) rotate(-90)" font-size="24.00" textLength="73.12" lengthAdjust="spacingAndGlyphs">0.9051</text>
<text transform="translate(1428.80,2159.94) rotate(-90)" font-size="24.00" textLength="74.12" lengthAdjust="spacingAndGlyphs">1.1799</text>
<text x="1140.05" y="1733.90" font-size="38.80" textLength="225.21" lengthAdjust="spacingAndGlyphs">Hippocampus</text>
<text x="847.24" y="1670.90" font-size="34.60" font-weight="bold" textLength="21.48" lengthAdjust="spacingAndGlyphs">E</text>
<text transform="translate(929.00,2216.93) rotate(-90)" font-size="39.10" textLength="482.45" lengthAdjust="spacingAndGlyphs">Relative mRNA level of PHD3</text>
<text transform="translate(1088.63,2211.75) rotate(-45)" text-anchor="end" font-size="31.87" textLength="83.27" lengthAdjust="spacingAndGlyphs">Saline</text>
<text transform="translate(1205.73,2206.78) rotate(-45)" text-anchor="end" font-size="31.55" textLength="56.06" lengthAdjust="spacingAndGlyphs">LPS</text>
<text transform="translate(1318.53,2206.46) rotate(-45)" text-anchor="end" font-size="31.31" textLength="141.52" lengthAdjust="spacingAndGlyphs">Roxa+LPS</text>
<text transform="translate(1429.59,2207.22) rotate(-45)" text-anchor="end" font-size="31.02" textLength="218.26" lengthAdjust="spacingAndGlyphs">Roxa+LPS+Wort</text>
</svg></body></html>
